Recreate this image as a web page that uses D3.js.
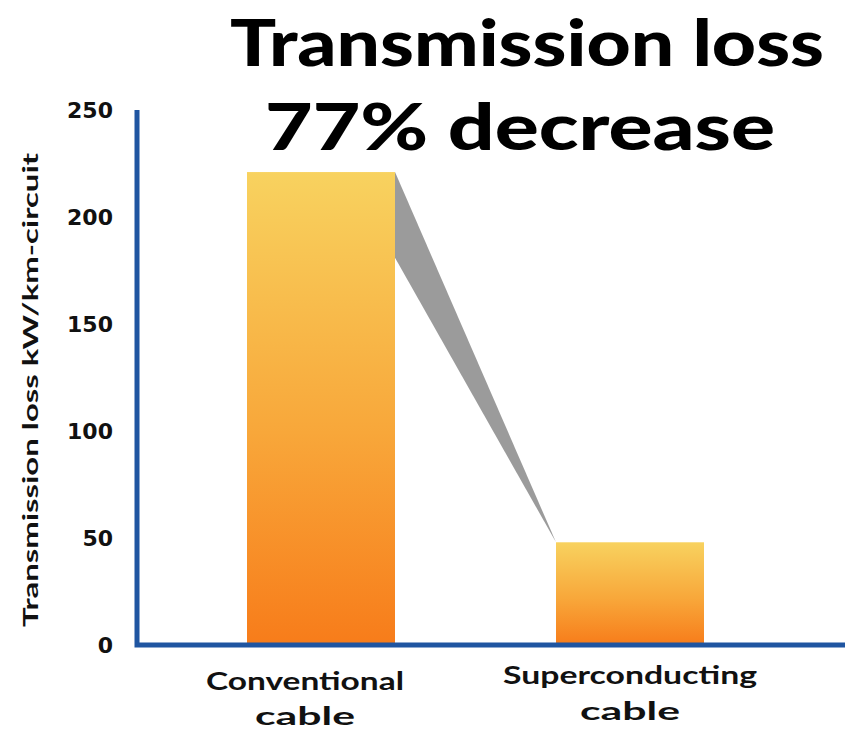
<!DOCTYPE html>
<html><head><meta charset="utf-8">
<script src="https://cdn.jsdelivr.net/npm/d3@7"></script>
<style>body{margin:0;background:#fff}svg{display:block}</style>
</head><body>
<svg id="c" width="845" height="729"></svg>
<script>
const categories = [["Conventional","cable"],["Superconducting","cable"]];
const values = [221, 48];
const connectorLow = 181; // lower edge of grey wedge on the first bar
const yTicks = [0,50,100,150,200,250];
const titleLines = ["Transmission loss","77% decrease"];
const yTitle = "Transmission loss kW/km-circuit";

const svg = d3.select("#c");
const font = "'Lato','DejaVu Sans',sans-serif";
const x0 = 137, x1 = 845, yTop = 110, yBot = 645;

const y = d3.scaleLinear().domain([0,250]).range([yBot, yTop]);

const defs = svg.append("defs");
const g = defs.append("linearGradient").attr("id","bg").attr("x1",0).attr("y1",0).attr("x2",0).attr("y2",1);
g.append("stop").attr("offset","0%").attr("stop-color","#f8d25f");
g.append("stop").attr("offset","55%").attr("stop-color","#f8a73a");
g.append("stop").attr("offset","100%").attr("stop-color","#f77c1a");

// connector wedge
const bw = 148;
const xc = [247, 556];
svg.append("path")
  .attr("d", d3.line()([[xc[0]+bw, y(values[0])],[xc[1], y(values[1])],[xc[0]+bw, y(connectorLow)]]) + "Z")
  .attr("fill","#9b9b9b");

svg.selectAll("rect.bar").data(values).join("rect").attr("class","bar")
  .attr("x",(d,i)=>xc[i]).attr("width",bw)
  .attr("y",d=>y(d)).attr("height",d=>yBot-y(d))
  .attr("fill","url(#bg)");

// axes
svg.append("path").attr("d",`M${x0},${yTop}V${yBot}H${x1}`)
  .attr("fill","none").attr("stroke","#1f55a1").attr("stroke-width",5);

svg.selectAll("text.yt").data(yTicks).join("text").attr("class","yt")
  .attr("x",113).attr("y",d=>y(d)).attr("dy","0.36em")
  .attr("text-anchor","end").attr("font-family","'DejaVu Sans',sans-serif").attr("font-weight","bold")
  .attr("font-size",22).attr("fill","#111").text(d=>d);

svg.append("text").attr("transform","translate(38,390) rotate(-90)")
  .attr("text-anchor","middle").attr("font-family",font).attr("font-weight","bold")
  .attr("font-size",20).attr("fill","#111").text(yTitle)
  .attr("textLength",474).attr("lengthAdjust","spacingAndGlyphs");

const xCenters = [305, 630];
const xl = [[{y:690,w:198},{y:725,w:100}],[{y:684,w:254},{y:720,w:100}]];
categories.forEach((lines,i)=>{
  lines.forEach((t,j)=>{
    svg.append("text").attr("x",xCenters[i]).attr("y",xl[i][j].y)
      .attr("text-anchor","middle").attr("font-family",font).attr("font-weight","bold")
      .attr("font-size",24).attr("fill","#111").text(t)
      .attr("textLength",xl[i][j].w).attr("lengthAdjust","spacingAndGlyphs");
  });
});

const tl = [{x:527,y:66,w:594},{x:520,y:150,w:510}];
titleLines.forEach((t,i)=>{
  svg.append("text").attr("x",tl[i].x).attr("y",tl[i].y)
    .attr("text-anchor","middle").attr("font-family",font).attr("font-weight","900")
    .attr("font-size",64).attr("fill","#000").text(t)
    .attr("textLength",tl[i].w).attr("lengthAdjust","spacingAndGlyphs");
});
</script>
</body></html>
